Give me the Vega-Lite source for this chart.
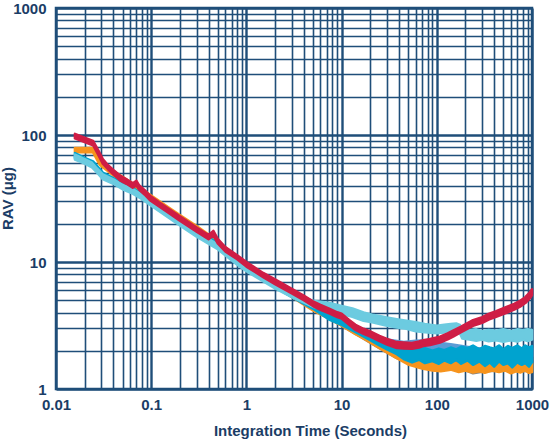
{
  "$schema": "https://vega.github.io/schema/vega-lite/v6.json",
  "width": 476,
  "height": 381,
  "autosize": {"type": "none"},
  "padding": {"left": 56, "top": 8, "right": 20, "bottom": 52},
  "background": "white",
  "datasets": {
    "gray": [
      {"x": 3, "lo": 5.3, "hi": 5.7}, {"x": 10, "lo": 3.15, "hi": 3.45}, {"x": 25, "lo": 2.1, "hi": 2.33},
      {"x": 38, "lo": 1.75, "hi": 1.98}, {"x": 60, "lo": 1.6, "hi": 1.9}, {"x": 90, "lo": 1.7, "hi": 2.0},
      {"x": 112, "lo": 1.8, "hi": 2.08}, {"x": 140, "lo": 1.6, "hi": 1.9}, {"x": 180, "lo": 1.45, "hi": 1.7},
      {"x": 240, "lo": 1.33, "hi": 1.52}, {"x": 320, "lo": 1.38, "hi": 1.6}, {"x": 500, "lo": 1.4, "hi": 1.62},
      {"x": 1000, "lo": 1.38, "hi": 1.6}
    ],
    "orange": [
      {"x": 0.0158, "lo": 73, "hi": 79}, {"x": 0.0245, "lo": 73, "hi": 79}, {"x": 0.029, "lo": 58, "hi": 62},
      {"x": 0.035, "lo": 52, "hi": 56}, {"x": 0.04, "lo": 48, "hi": 52}, {"x": 0.05, "lo": 43.2, "hi": 46.8},
      {"x": 0.064, "lo": 38.4, "hi": 41.6}, {"x": 0.08, "lo": 34.6, "hi": 37.4}, {"x": 0.1, "lo": 30.8, "hi": 33.3},
      {"x": 0.15, "lo": 25, "hi": 27.1}, {"x": 0.2, "lo": 21.6, "hi": 23.4}, {"x": 0.3, "lo": 17.8, "hi": 19.2},
      {"x": 0.5, "lo": 13.4, "hi": 14.6}, {"x": 0.8, "lo": 10.1, "hi": 10.9}, {"x": 1, "lo": 8.85, "hi": 9.55},
      {"x": 2, "lo": 6.35, "hi": 6.85}, {"x": 3, "lo": 5.3, "hi": 5.7}, {"x": 5, "lo": 4.15, "hi": 4.5},
      {"x": 7.5, "lo": 3.55, "hi": 3.85}, {"x": 10, "lo": 3.15, "hi": 3.45}, {"x": 14, "lo": 2.7, "hi": 3.0},
      {"x": 17, "lo": 2.5, "hi": 2.75}, {"x": 25, "lo": 2.1, "hi": 2.33}, {"x": 38, "lo": 1.75, "hi": 1.98},
      {"x": 50, "lo": 1.56, "hi": 1.78}, {"x": 70, "lo": 1.45, "hi": 1.68}, {"x": 90, "lo": 1.4, "hi": 1.62},
      {"x": 110, "lo": 1.38, "hi": 1.6}, {"x": 140, "lo": 1.42, "hi": 1.62}, {"x": 170, "lo": 1.36, "hi": 1.58},
      {"x": 200, "lo": 1.4, "hi": 1.64}, {"x": 240, "lo": 1.35, "hi": 1.56}, {"x": 280, "lo": 1.38, "hi": 1.62},
      {"x": 320, "lo": 1.34, "hi": 1.58}, {"x": 380, "lo": 1.4, "hi": 1.62}, {"x": 450, "lo": 1.36, "hi": 1.56},
      {"x": 520, "lo": 1.4, "hi": 1.65}, {"x": 600, "lo": 1.33, "hi": 1.55}, {"x": 680, "lo": 1.38, "hi": 1.62},
      {"x": 760, "lo": 1.35, "hi": 1.58}, {"x": 850, "lo": 1.4, "hi": 1.66}, {"x": 930, "lo": 1.34, "hi": 1.56},
      {"x": 1000, "lo": 1.36, "hi": 1.6}
    ],
    "steel": [
      {"x": 3, "lo": 5.3, "hi": 5.8}, {"x": 5, "lo": 4.3, "hi": 4.7}, {"x": 10, "lo": 3.3, "hi": 3.6},
      {"x": 20, "lo": 2.5, "hi": 2.75}, {"x": 30, "lo": 2.2, "hi": 2.45}, {"x": 45, "lo": 2.05, "hi": 2.35},
      {"x": 60, "lo": 2.05, "hi": 2.4}, {"x": 80, "lo": 2.05, "hi": 2.42}, {"x": 110, "lo": 2.0, "hi": 2.3},
      {"x": 140, "lo": 1.95, "hi": 2.25}, {"x": 170, "lo": 1.85, "hi": 2.2}, {"x": 250, "lo": 1.8, "hi": 2.1},
      {"x": 400, "lo": 1.75, "hi": 2.05}, {"x": 700, "lo": 1.75, "hi": 2.05}, {"x": 1000, "lo": 1.8, "hi": 2.1}
    ],
    "blue": [
      {"x": 0.0158, "lo": 66, "hi": 72}, {"x": 0.02, "lo": 61, "hi": 66}, {"x": 0.0245, "lo": 57, "hi": 62},
      {"x": 0.031, "lo": 46.5, "hi": 50.5}, {"x": 0.04, "lo": 42.3, "hi": 45.7}, {"x": 0.05, "lo": 38.4, "hi": 41.6},
      {"x": 0.064, "lo": 35.2, "hi": 38.2}, {"x": 0.08, "lo": 31.8, "hi": 34.4}, {"x": 0.1, "lo": 28.5, "hi": 30.9},
      {"x": 0.15, "lo": 23, "hi": 25}, {"x": 0.2, "lo": 19.9, "hi": 21.5}, {"x": 0.3, "lo": 16.2, "hi": 17.6},
      {"x": 0.5, "lo": 13, "hi": 14.2}, {"x": 0.8, "lo": 9.8, "hi": 10.6}, {"x": 1, "lo": 8.7, "hi": 9.4},
      {"x": 2, "lo": 6.3, "hi": 6.9}, {"x": 3, "lo": 5.3, "hi": 5.8}, {"x": 5, "lo": 4.3, "hi": 4.75},
      {"x": 7.5, "lo": 3.5, "hi": 3.9}, {"x": 10, "lo": 3.2, "hi": 3.6}, {"x": 14, "lo": 2.8, "hi": 3.15},
      {"x": 20, "lo": 2.42, "hi": 2.75}, {"x": 25, "lo": 2.2, "hi": 2.55}, {"x": 30, "lo": 2.05, "hi": 2.42},
      {"x": 38, "lo": 1.88, "hi": 2.25}, {"x": 45, "lo": 1.72, "hi": 2.15}, {"x": 55, "lo": 1.62, "hi": 2.1},
      {"x": 65, "lo": 1.7, "hi": 2.05}, {"x": 75, "lo": 1.6, "hi": 2.1}, {"x": 90, "lo": 1.66, "hi": 2.0},
      {"x": 105, "lo": 1.58, "hi": 2.08}, {"x": 120, "lo": 1.68, "hi": 2.02}, {"x": 140, "lo": 1.6, "hi": 2.12},
      {"x": 160, "lo": 1.7, "hi": 2.05}, {"x": 180, "lo": 1.58, "hi": 2.15}, {"x": 210, "lo": 1.68, "hi": 2.1},
      {"x": 240, "lo": 1.55, "hi": 2.2}, {"x": 280, "lo": 1.65, "hi": 2.05}, {"x": 320, "lo": 1.52, "hi": 2.18},
      {"x": 360, "lo": 1.62, "hi": 2.12}, {"x": 400, "lo": 1.5, "hi": 2.08}, {"x": 450, "lo": 1.65, "hi": 2.2},
      {"x": 500, "lo": 1.55, "hi": 2.05}, {"x": 560, "lo": 1.6, "hi": 2.18}, {"x": 620, "lo": 1.48, "hi": 2.1},
      {"x": 700, "lo": 1.62, "hi": 2.2}, {"x": 780, "lo": 1.55, "hi": 2.08}, {"x": 850, "lo": 1.6, "hi": 2.2},
      {"x": 930, "lo": 1.5, "hi": 2.12}, {"x": 1000, "lo": 1.62, "hi": 2.18}
    ],
    "cyan": [
      {"x": 0.0158, "lo": 64, "hi": 70}, {"x": 0.02, "lo": 59.5, "hi": 64.5}, {"x": 0.0239, "lo": 55.5, "hi": 60.5},
      {"x": 0.027, "lo": 50.5, "hi": 54.5}, {"x": 0.031, "lo": 45, "hi": 49}, {"x": 0.04, "lo": 41.3, "hi": 44.7},
      {"x": 0.05, "lo": 37.4, "hi": 40.6}, {"x": 0.064, "lo": 34.5, "hi": 37.5}, {"x": 0.08, "lo": 31.2, "hi": 33.8},
      {"x": 0.1, "lo": 27.8, "hi": 30.2}, {"x": 0.15, "lo": 22.5, "hi": 24.5}, {"x": 0.2, "lo": 19.4, "hi": 21},
      {"x": 0.3, "lo": 15.8, "hi": 17.2}, {"x": 0.5, "lo": 12.6, "hi": 13.8}, {"x": 0.8, "lo": 9.5, "hi": 10.3},
      {"x": 1, "lo": 8.45, "hi": 9.15}, {"x": 2, "lo": 6.2, "hi": 6.8}, {"x": 3, "lo": 5.3, "hi": 5.8},
      {"x": 5, "lo": 4.45, "hi": 4.95}, {"x": 7.5, "lo": 4.15, "hi": 4.75}, {"x": 10, "lo": 3.9, "hi": 4.5},
      {"x": 13, "lo": 3.7, "hi": 4.3}, {"x": 17, "lo": 3.45, "hi": 4.0}, {"x": 21, "lo": 3.35, "hi": 3.85},
      {"x": 25, "lo": 3.25, "hi": 3.75}, {"x": 30, "lo": 3.15, "hi": 3.65}, {"x": 38, "lo": 3.05, "hi": 3.55},
      {"x": 48, "lo": 2.98, "hi": 3.45}, {"x": 60, "lo": 2.85, "hi": 3.35}, {"x": 75, "lo": 2.8, "hi": 3.25},
      {"x": 100, "lo": 2.75, "hi": 3.15}, {"x": 120, "lo": 2.78, "hi": 3.2}, {"x": 140, "lo": 2.85, "hi": 3.25},
      {"x": 160, "lo": 2.82, "hi": 3.28}, {"x": 175, "lo": 2.75, "hi": 3.2}, {"x": 185, "lo": 2.5, "hi": 2.85},
      {"x": 220, "lo": 2.45, "hi": 2.9}, {"x": 260, "lo": 2.4, "hi": 2.95}, {"x": 300, "lo": 2.45, "hi": 2.85},
      {"x": 350, "lo": 2.38, "hi": 2.92}, {"x": 420, "lo": 2.42, "hi": 2.88}, {"x": 500, "lo": 2.35, "hi": 2.95},
      {"x": 600, "lo": 2.42, "hi": 2.85}, {"x": 700, "lo": 2.36, "hi": 2.95}, {"x": 800, "lo": 2.45, "hi": 2.9},
      {"x": 900, "lo": 2.38, "hi": 2.96}, {"x": 1000, "lo": 2.45, "hi": 2.92}
    ],
    "red": [
      {"x": 0.0158, "lo": 94, "hi": 102}, {"x": 0.0245, "lo": 83, "hi": 90}, {"x": 0.028, "lo": 69, "hi": 75},
      {"x": 0.031, "lo": 59.5, "hi": 64.5}, {"x": 0.035, "lo": 54, "hi": 58}, {"x": 0.04, "lo": 49, "hi": 53},
      {"x": 0.047, "lo": 44, "hi": 48}, {"x": 0.055, "lo": 41.3, "hi": 44.7}, {"x": 0.064, "lo": 38.4, "hi": 41.6},
      {"x": 0.07, "lo": 40, "hi": 43.5}, {"x": 0.075, "lo": 37, "hi": 40}, {"x": 0.085, "lo": 34, "hi": 37},
      {"x": 0.097, "lo": 30.7, "hi": 33.3}, {"x": 0.12, "lo": 27.5, "hi": 29.7}, {"x": 0.15, "lo": 24.5, "hi": 26.5},
      {"x": 0.2, "lo": 21.1, "hi": 22.9}, {"x": 0.3, "lo": 17.3, "hi": 18.7}, {"x": 0.4, "lo": 15.1, "hi": 16.3},
      {"x": 0.45, "lo": 16.2, "hi": 17.6}, {"x": 0.5, "lo": 14, "hi": 15.2}, {"x": 0.6, "lo": 12.1, "hi": 13.1},
      {"x": 0.8, "lo": 10.5, "hi": 11.3}, {"x": 1, "lo": 9.2, "hi": 10}, {"x": 1.5, "lo": 7.6, "hi": 8.2},
      {"x": 2, "lo": 6.7, "hi": 7.3}, {"x": 3, "lo": 5.65, "hi": 6.15}, {"x": 4, "lo": 5.0, "hi": 5.45},
      {"x": 5, "lo": 4.5, "hi": 4.9}, {"x": 6, "lo": 4.2, "hi": 4.6}, {"x": 7.5, "lo": 3.92, "hi": 4.28},
      {"x": 9, "lo": 3.68, "hi": 4.02}, {"x": 10, "lo": 3.58, "hi": 3.92}, {"x": 12, "lo": 3.2, "hi": 3.5},
      {"x": 14, "lo": 2.92, "hi": 3.2}, {"x": 17, "lo": 2.72, "hi": 2.98}, {"x": 20, "lo": 2.58, "hi": 2.84},
      {"x": 25, "lo": 2.38, "hi": 2.62}, {"x": 30, "lo": 2.24, "hi": 2.48}, {"x": 38, "lo": 2.1, "hi": 2.34},
      {"x": 45, "lo": 2.08, "hi": 2.32}, {"x": 55, "lo": 2.07, "hi": 2.3}, {"x": 65, "lo": 2.12, "hi": 2.37},
      {"x": 72, "lo": 2.18, "hi": 2.42}, {"x": 85, "lo": 2.22, "hi": 2.48}, {"x": 108, "lo": 2.32, "hi": 2.58},
      {"x": 130, "lo": 2.46, "hi": 2.74}, {"x": 150, "lo": 2.6, "hi": 2.9}, {"x": 180, "lo": 2.8, "hi": 3.1},
      {"x": 240, "lo": 3.14, "hi": 3.48}, {"x": 300, "lo": 3.32, "hi": 3.68}, {"x": 350, "lo": 3.52, "hi": 3.9},
      {"x": 420, "lo": 3.7, "hi": 4.1}, {"x": 540, "lo": 3.98, "hi": 4.42}, {"x": 650, "lo": 4.22, "hi": 4.68},
      {"x": 750, "lo": 4.45, "hi": 4.95}, {"x": 850, "lo": 4.75, "hi": 5.28}, {"x": 955, "lo": 5.2, "hi": 5.8},
      {"x": 1000, "lo": 5.5, "hi": 6.1}
    ]
  },
  "encoding": {
    "x": {
      "field": "x",
      "type": "quantitative",
      "scale": {"type": "log", "domain": [0.01, 1000], "nice": false},
      "axis": {
        "title": "Integration Time (Seconds)",
        "values": [0.01, 0.02, 0.03, 0.04, 0.05, 0.06, 0.07, 0.08, 0.09, 0.1, 0.2, 0.3, 0.4, 0.5, 0.6, 0.7, 0.8, 0.9, 1, 2, 3, 4, 5, 6, 7, 8, 9, 10, 20, 30, 40, 50, 60, 70, 80, 90, 100, 200, 300, 400, 500, 600, 700, 800, 900, 1000],
        "format": "~g",
        "labelExpr": "abs(log(datum.value)/LN10 - round(log(datum.value)/LN10)) < 0.001 ? datum.label : ''",
        "gridWidth": {"condition": {"test": "abs(log(datum.value)/LN10 - round(log(datum.value)/LN10)) < 0.001", "value": 2.4}, "value": 1.6},
        "labelPadding": 8,
        "labelFlush": false,
        "labelOverlap": false,
        "titleX": 254,
        "titleY": 34,
        "titleAlign": "center",
        "titleBaseline": "top"
      }
    },
    "y": {
      "field": "lo",
      "type": "quantitative",
      "scale": {"type": "log", "domain": [1, 1000], "nice": false},
      "axis": {
        "title": "RAV (μg)",
        "values": [1, 2, 3, 4, 5, 6, 7, 8, 9, 10, 20, 30, 40, 50, 60, 70, 80, 90, 100, 200, 300, 400, 500, 600, 700, 800, 900, 1000],
        "format": "~g",
        "labelExpr": "abs(log(datum.value)/LN10 - round(log(datum.value)/LN10)) < 0.001 ? datum.label : ''",
        "gridWidth": {"condition": {"test": "abs(log(datum.value)/LN10 - round(log(datum.value)/LN10)) < 0.001", "value": 2.4}, "value": 1.6},
        "labelPadding": 10,
        "labelFlush": false,
        "labelOverlap": false,
        "titleX": -49,
        "titleY": 190,
        "titleAngle": -90,
        "titleAlign": "center",
        "titleBaseline": "middle"
      }
    },
    "y2": {"field": "hi"}
  },
  "layer": [
    {"data": {"name": "gray"}, "mark": {"type": "area", "color": "#858585", "stroke": "#858585", "strokeWidth": 2.5, "strokeJoin": "round"}},
    {"data": {"name": "orange"}, "mark": {"type": "area", "color": "#f7941d", "stroke": "#f7941d", "strokeWidth": 2.5, "strokeJoin": "round"}},
    {"data": {"name": "steel"}, "mark": {"type": "area", "color": "#5b9bd5", "stroke": "#5b9bd5", "strokeWidth": 2.5, "strokeJoin": "round"}},
    {"data": {"name": "blue"}, "mark": {"type": "area", "color": "#00a3cf", "stroke": "#00a3cf", "strokeWidth": 2.5, "strokeJoin": "round"}},
    {"data": {"name": "cyan"}, "mark": {"type": "area", "color": "#6ccbe0", "stroke": "#6ccbe0", "strokeWidth": 2.5, "strokeJoin": "round"}},
    {"data": {"name": "red"}, "mark": {"type": "area", "color": "#cf1d45", "stroke": "#cf1d45", "strokeWidth": 2.5, "strokeJoin": "round"}}
  ],
  "config": {
    "view": {"stroke": "#1f4e79", "strokeWidth": 2.5},
    "axis": {
      "grid": true,
      "gridColor": "#1f4e79",
      "gridOpacity": 1,
      "domain": false,
      "ticks": false,
      "labelFont": "Liberation Sans",
      "labelFontWeight": "bold",
      "labelFontSize": 15,
      "labelColor": "#1b3d66",
      "titleFont": "Liberation Sans",
      "titleFontWeight": "bold",
      "titleFontSize": 15,
      "titleColor": "#1b3d66"
    }
  }
}
